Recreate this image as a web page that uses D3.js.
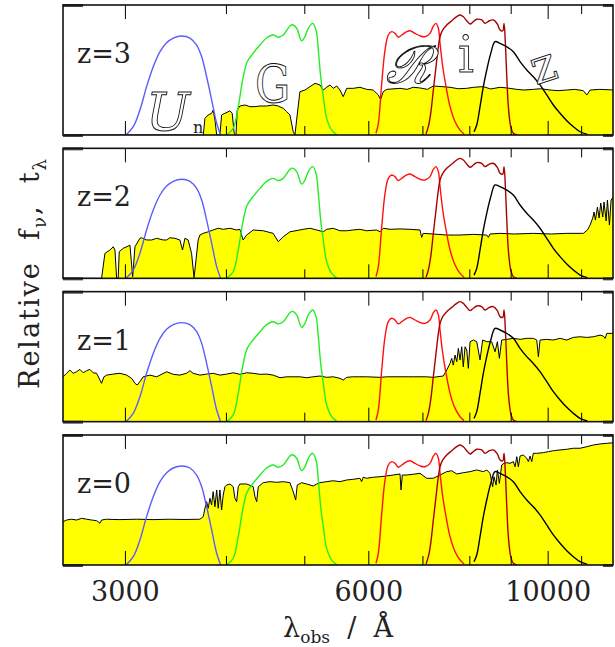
<!DOCTYPE html>
<html><head><meta charset="utf-8">
<script src="https://cdn.jsdelivr.net/npm/d3@7"></script>
<style>body{margin:0;background:#fff}svg{display:block}</style>
</head><body>
<script>
// ---------------- data ----------------
const xDomain = [2515, 12045];
const majorTicks = [3000, 6000, 10000];
const minorTicks = [4000, 5000, 7000, 8000, 9000, 11000];
const tickLabels = ["3000", "6000", "10000"];
const redshiftLabels = ["z=3", "z=2", "z=1", "z=0"];

// filter transmission curves [wavelength (Å), relative transmission]
const filterU = [[3009,0],[3072,0.064],[3131,0.192],[3191,0.372],[3252,0.525],[3315,0.641],[3378,0.71],[3443,0.746],[3526,0.762],[3610,0.746],[3680,0.692],[3733,0.602],[3786,0.448],[3841,0.269],[3896,0.09],[3940,0]];
const filterG = [[4008,0],[4084,0.052],[4143,0.218],[4195,0.423],[4250,0.564],[4324,0.63],[4407,0.692],[4491,0.746],[4576,0.769],[4643,0.752],[4709,0.769],[4800,0.838],[4838,0.848],[4893,0.821],[4963,0.725],[5010,0.756],[5057,0.821],[5121,0.859],[5170,0.808],[5204,0.654],[5239,0.448],[5278,0.295],[5329,0.128],[5406,0.038],[5483,0.004]];
const filterR = [[6133,0.013],[6174,0.09],[6234,0.398],[6293,0.654],[6352,0.769],[6414,0.795],[6474,0.782],[6535,0.752],[6599,0.769],[6694,0.795],[6757,0.802],[6854,0.782],[6953,0.762],[7052,0.756],[7153,0.782],[7221,0.838],[7276,0.859],[7325,0.821],[7360,0.705],[7417,0.525],[7487,0.372],[7573,0.218],[7682,0.102],[7792,0.038],[7881,0.008]];
const filterI = [[7072,0.008],[7119,0.064],[7167,0.167],[7221,0.346],[7276,0.525],[7325,0.679],[7360,0.756],[7417,0.808],[7502,0.846],[7610,0.879],[7719,0.91],[7792,0.923],[7865,0.91],[7942,0.879],[8017,0.854],[8092,0.872],[8171,0.89],[8288,0.885],[8366,0.859],[8470,0.879],[8567,0.885],[8665,0.854],[8732,0.808],[8800,0.802],[8832,0.859],[8865,0.705],[8901,0.448],[8941,0.218],[9002,0.064],[9069,0.013],[9158,0.002]];
const filterZ = [[8108,0.025],[8171,0.077],[8248,0.218],[8326,0.372],[8407,0.5],[8504,0.628],[8608,0.718],[8732,0.705],[8901,0.679],[9069,0.641],[9244,0.564],[9422,0.5],[9600,0.448],[9785,0.385],[9974,0.308],[10163,0.231],[10359,0.167],[10559,0.11],[10760,0.064],[10967,0.025],[11198,0.005]];

// galaxy spectra [observed wavelength (Å), relative f_nu]
const specZ3 = [[2500,0],[3750,0],[3768,0.128],[3803,0.154],[3840,0.167],[3857,0.192],[3877,0.115],[3896,0],[3932,0],[3951,0.154],[3989,0.167],[4046,0.186],[4072,0.167],[4095,0.013],[4116,0],[4131,0.192],[4162,0.223],[4223,0.231],[4283,0.218],[4345,0.218],[4407,0.223],[4491,0.223],[4576,0.231],[4643,0.223],[4709,0.205],[4756,0.179],[4800,0.154],[4845,0.025],[4869,0],[4892,0.115],[4938,0.333],[5010,0.346],[5081,0.372],[5155,0.397],[5228,0.385],[5277,0.346],[5329,0.367],[5380,0.385],[5430,0.359],[5483,0.377],[5535,0.346],[5586,0.295],[5642,0.359],[5748,0.359],[5859,0.367],[5973,0.351],[6085,0.346],[6173,0.308],[6214,0.274],[6261,0.333],[6323,0.351],[6567,0.359],[6700,0.351],[6820,0.367],[6950,0.362],[7100,0.351],[7219,0.377],[7400,0.372],[7572,0.367],[7750,0.356],[7942,0.359],[8100,0.367],[8325,0.372],[8500,0.354],[8732,0.367],[8900,0.362],[9158,0.351],[9350,0.346],[9599,0.351],[9800,0.356],[10068,0.346],[10300,0.341],[10559,0.346],[10800,0.351],[11069,0.341],[11179,0.308],[11285,0.346],[11600,0.351],[12100,0.346]];
const specZ2 = [[2500,0],[2807,0],[2834,0.192],[2875,0.218],[2902,0.243],[2916,0.218],[2930,0],[2943,0],[2952,0.205],[2986,0.231],[3028,0.248],[3043,0.256],[3067,0.012],[3087,0.243],[3131,0.308],[3146,0.312],[3191,0.295],[3237,0.295],[3284,0.308],[3345,0.295],[3378,0.295],[3410,0.312],[3459,0.308],[3508,0.295],[3535,0.218],[3559,0.308],[3592,0.295],[3627,0.192],[3653,0.005],[3696,0.295],[3714,0.333],[3749,0.346],[3803,0.358],[3857,0.372],[3913,0.385],[3969,0.377],[4046,0.385],[4124,0.372],[4162,0.377],[4201,0.295],[4243,0.333],[4323,0.372],[4448,0.366],[4576,0.346],[4643,0.282],[4709,0.32],[4800,0.358],[4938,0.372],[4984,0.377],[5081,0.385],[5180,0.372],[5277,0.358],[5329,0.377],[5430,0.385],[5535,0.366],[5642,0.366],[5748,0.372],[5859,0.377],[5973,0.366],[6145,0.372],[6203,0.358],[6261,0.385],[6383,0.377],[6567,0.38],[6757,0.377],[6952,0.372],[6985,0.315],[7016,0.346],[7219,0.341],[7502,0.333],[7791,0.333],[8091,0.338],[8407,0.333],[8446,0.315],[8486,0.341],[8732,0.346],[9100,0.341],[9599,0.346],[10100,0.341],[10559,0.346],[11069,0.346],[11199,0.372],[11285,0.41],[11370,0.464],[11412,0.51],[11457,0.448],[11522,0.548],[11578,0.464],[11632,0.579],[11698,0.472],[11741,0.587],[11812,0.441],[11855,0.602],[11923,0.41],[11980,0.602],[12100,0.64]];
const specZ1 = [[2500,0.345],[2516,0.345],[2541,0.372],[2565,0.397],[2589,0.372],[2614,0.384],[2639,0.402],[2664,0.376],[2690,0.392],[2715,0.402],[2741,0.376],[2768,0.372],[2794,0.32],[2807,0.295],[2826,0.345],[2848,0.358],[2902,0.366],[2958,0.372],[3015,0.358],[3058,0.333],[3087,0.295],[3107,0.282],[3131,0.307],[3160,0.345],[3221,0.358],[3284,0.345],[3315,0.358],[3378,0.384],[3442,0.364],[3508,0.358],[3576,0.372],[3610,0.392],[3643,0.372],[3714,0.358],[3786,0.366],[3857,0.372],[3932,0.358],[4008,0.366],[4084,0.376],[4162,0.364],[4243,0.376],[4323,0.372],[4407,0.364],[4491,0.366],[4576,0.358],[4666,0.338],[4756,0.345],[4845,0.345],[4938,0.345],[5034,0.338],[5129,0.345],[5228,0.351],[5329,0.341],[5430,0.345],[5535,0.333],[5586,0.32],[5642,0.341],[5748,0.345],[5859,0.345],[5973,0.345],[6203,0.341],[6323,0.345],[6567,0.345],[6820,0.345],[7086,0.345],[7219,0.341],[7428,0.351],[7502,0.397],[7572,0.448],[7608,0.487],[7643,0.435],[7682,0.512],[7719,0.461],[7754,0.564],[7791,0.474],[7829,0.576],[7864,0.422],[7904,0.576],[7942,0.551],[7978,0.41],[8017,0.615],[8092,0.628],[8171,0.615],[8248,0.474],[8310,0.628],[8407,0.615],[8527,0.615],[8608,0.538],[8666,0.615],[8715,0.487],[8773,0.628],[8901,0.633],[9069,0.641],[9244,0.633],[9422,0.641],[9599,0.641],[9694,0.628],[9739,0.499],[9785,0.628],[9974,0.633],[10163,0.628],[10359,0.641],[10559,0.628],[10760,0.648],[10967,0.653],[11179,0.648],[11390,0.653],[11610,0.666],[11718,0.658],[11778,0.641],[11835,0.679],[12100,0.679]];
const specZ0 = [[2500,0.333],[2516,0.333],[2541,0.346],[2577,0.352],[2614,0.346],[2652,0.359],[2690,0.352],[2728,0.346],[2768,0.341],[2794,0.321],[2807,0.346],[2848,0.352],[2950,0.349],[3100,0.352],[3250,0.349],[3400,0.352],[3550,0.35],[3714,0.352],[3750,0.372],[3768,0.436],[3786,0.487],[3803,0.436],[3822,0.513],[3840,0.462],[3857,0.564],[3877,0.448],[3896,0.577],[3913,0.436],[3932,0.577],[3951,0.423],[3969,0.538],[3989,0.602],[4008,0.615],[4046,0.623],[4084,0.602],[4104,0.513],[4124,0.487],[4143,0.602],[4162,0.623],[4243,0.623],[4323,0.602],[4345,0.525],[4366,0.487],[4386,0.602],[4448,0.633],[4534,0.641],[4622,0.636],[4709,0.641],[4800,0.633],[4845,0.564],[4879,0.5],[4901,0.615],[4962,0.633],[5034,0.623],[5129,0.608],[5180,0.623],[5228,0.633],[5329,0.641],[5430,0.648],[5535,0.641],[5642,0.654],[5748,0.659],[5859,0.667],[5887,0.641],[5914,0.675],[5973,0.667],[6085,0.675],[6203,0.679],[6323,0.685],[6442,0.692],[6567,0.7],[6586,0.577],[6610,0.692],[6694,0.692],[6820,0.698],[6952,0.705],[7086,0.667],[7219,0.667],[7359,0.692],[7502,0.718],[7608,0.725],[7719,0.7],[7864,0.71],[8017,0.718],[8171,0.731],[8325,0.718],[8407,0.731],[8486,0.705],[8550,0.602],[8582,0.679],[8634,0.615],[8666,0.731],[8715,0.628],[8773,0.769],[8830,0.782],[8901,0.787],[8984,0.782],[9069,0.795],[9114,0.756],[9158,0.833],[9200,0.756],[9244,0.838],[9330,0.846],[9422,0.821],[9465,0.795],[9511,0.838],[9556,0.795],[9599,0.859],[9694,0.859],[9877,0.864],[10020,0.872],[10163,0.879],[10359,0.885],[10559,0.89],[10760,0.898],[10967,0.898],[11179,0.91],[11390,0.923],[11610,0.931],[11835,0.936],[12100,0.941]];

const spectra = [specZ3, specZ2, specZ1, specZ0];
const filters = [
  {data: filterU, color: "#5c5cff"},
  {data: filterG, color: "#22ee22"},
  {data: filterR, color: "#ff1010"},
  {data: filterI, color: "#a80000"},
  {data: filterZ, color: "#000000"}
];

// ---------------- drawing ----------------
const W = 615, H = 647;
const left = 63, right = 613, panelH = 130, panelStep = 143.33, firstTop = 5;
const serif = "'DejaVu Serif', serif";
const ink = "#222";

const svg = d3.select("body").append("svg").attr("width", W).attr("height", H);
const x = d3.scaleLog().domain(xDomain).range([left, right]);

spectra.forEach((spec, i) => {
  const top = firstTop + i * panelStep;
  const bottom = top + panelH;
  const y = d3.scaleLinear().domain([0, 1]).range([bottom, top]);
  const g = svg.append("g");
  const cid = "clip" + i;
  svg.append("clipPath").attr("id", cid).append("rect")
    .attr("x", left).attr("y", top).attr("width", right - left).attr("height", panelH);
  const inner = g.append("g").attr("clip-path", `url(#${cid})`);

  inner.append("path").datum(spec)
    .attr("d", d3.area().x(d => x(d[0])).y0(y(0)).y1(d => y(d[1])))
    .attr("fill", "#ffff00");
  inner.append("path").datum(spec)
    .attr("d", d3.line().x(d => x(d[0])).y(d => y(d[1])))
    .attr("fill", "none").attr("stroke", "#000").attr("stroke-width", 1);

  filters.forEach(f => {
    inner.append("path").datum(f.data)
      .attr("d", d3.line().curve(d3.curveCatmullRom.alpha(0.5)).x(d => x(d[0])).y(d => y(d[1])))
      .attr("fill", "none").attr("stroke", f.color).attr("stroke-width", 1.4);
  });

  // ticks (inward)
  const addAxis = (axis, ty) => {
    const a = g.append("g").attr("transform", `translate(0,${ty})`).call(axis);
    a.select(".domain").remove();
    a.selectAll(".tick line").attr("stroke", "#000").attr("stroke-width", 1);
    return a;
  };
  addAxis(d3.axisTop(x).tickValues(majorTicks).tickSize(-14).tickFormat(""), top);
  addAxis(d3.axisTop(x).tickValues(minorTicks).tickSize(-9).tickFormat(""), top);
  addAxis(d3.axisBottom(x).tickValues(minorTicks).tickSize(-9).tickFormat(""), bottom);
  const bAx = addAxis(d3.axisBottom(x).tickValues(majorTicks).tickSize(-14).tickPadding(17)
      .tickFormat((d, k) => i === 3 ? tickLabels[k] : ""), bottom);
  bAx.selectAll("text").attr("font-family", serif).attr("font-size", 27).attr("fill", ink);

  // y-axis end ticks lying along the frame
  const yl = g.append("g").attr("transform", `translate(${left},0)`)
    .call(d3.axisLeft(y).tickValues([0, 1]).tickSize(-20).tickFormat(""));
  yl.select(".domain").remove();
  yl.selectAll(".tick line").attr("stroke", "#444").attr("stroke-width", 3);
  const yr = g.append("g").attr("transform", `translate(${right},0)`)
    .call(d3.axisRight(y).tickValues([0, 1]).tickSize(-10).tickFormat(""));
  yr.select(".domain").remove();
  yr.selectAll(".tick line").attr("stroke", "#444").attr("stroke-width", 3);

  g.append("rect").attr("x", left).attr("y", top).attr("width", right - left).attr("height", panelH)
    .attr("fill", "none").attr("stroke", "#111").attr("stroke-width", 1.6);

  g.append("text").attr("x", 77).attr("y", top + 58)
    .attr("font-family", serif).attr("font-size", 27).attr("fill", ink)
    .text(redshiftLabels[i]);

  if (i === 0) {
    const outline = sel => sel.attr("fill", "#fff").attr("stroke", "#111").attr("stroke-width", 0.9);
    g.append("text").attr("x", 146).attr("y", top + 125).attr("font-family", serif)
      .attr("font-style", "italic").attr("font-size", 52).call(outline).text("U");
    g.append("text").attr("x", 193).attr("y", top + 128).attr("font-family", serif)
      .attr("font-size", 16).attr("fill", ink).text("n");
    g.append("text").attr("transform", `translate(255,${top + 97}) scale(0.85,1)`)
      .attr("font-family", serif).attr("font-size", 52).call(outline).text("G");
    g.append("text").attr("transform", `translate(386,${top + 78})`)
      .attr("font-family", serif).attr("font-style", "italic").attr("font-size", 52).call(outline).text("ℛ");
    g.append("text").attr("transform", `translate(458,${top + 67})`)
      .attr("font-family", serif).attr("font-size", 50).call(outline).text("i");
    g.append("text").attr("transform", `translate(536,${top + 80}) rotate(-18)`)
      .attr("font-family", serif).attr("font-size", 48).call(outline).text("z");
  }
});

// axis titles
const xt = svg.append("text").attr("x", 338).attr("y", 637).attr("text-anchor", "middle")
  .attr("font-family", serif).attr("font-size", 27).attr("fill", ink)
  .style("white-space", "pre");
xt.append("tspan").text("λ");
xt.append("tspan").attr("font-size", 17).attr("dy", 6).text("obs");
xt.append("tspan").attr("dy", -6).text("  /  Å");

const yt = svg.append("text").attr("transform", "translate(39,273) rotate(-90)").attr("text-anchor", "middle")
  .attr("font-family", serif).attr("font-size", 27).attr("fill", ink)
  .attr("letter-spacing", 2).style("white-space", "pre");
yt.append("tspan").text("Relative  f");
yt.append("tspan").attr("font-size", 18).attr("dy", 7).text("ν");
yt.append("tspan").attr("dy", -7).text(",  t");
yt.append("tspan").attr("font-size", 18).attr("dy", 7).text("λ");
</script>
</body></html>
